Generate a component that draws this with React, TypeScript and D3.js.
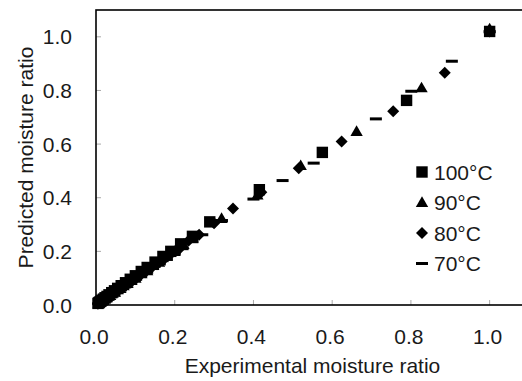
import React from 'react';
import * as d3 from 'd3';

// experimental vs predicted moisture ratio, per drying temperature
const exp100 = [1.0, 0.789, 0.575, 0.415, 0.289, 0.245, 0.215, 0.19, 0.17, 0.15, 0.13, 0.115, 0.1, 0.087, 0.075, 0.064, 0.055, 0.047, 0.04, 0.033, 0.028, 0.023, 0.019, 0.015, 0.012, 0.009, 0.007, 0.005];
const pred100 = [1.02, 0.763, 0.569, 0.43, 0.31, 0.256, 0.228, 0.2, 0.181, 0.16, 0.14, 0.125, 0.109, 0.096, 0.083, 0.072, 0.062, 0.053, 0.046, 0.038, 0.032, 0.027, 0.022, 0.018, 0.014, 0.011, 0.008, 0.006];

const exp90 = [1.0, 0.827, 0.662, 0.52, 0.41, 0.319, 0.245, 0.222, 0.2, 0.18, 0.16, 0.145, 0.13, 0.115, 0.1, 0.09, 0.08, 0.07, 0.062, 0.055, 0.048, 0.042, 0.036, 0.031, 0.026, 0.022, 0.018, 0.015, 0.012, 0.009, 0.007];
const pred90 = [1.03, 0.81, 0.647, 0.52, 0.41, 0.323, 0.25, 0.226, 0.2, 0.183, 0.16, 0.148, 0.128, 0.117, 0.1, 0.092, 0.08, 0.072, 0.062, 0.057, 0.048, 0.044, 0.036, 0.033, 0.026, 0.023, 0.018, 0.016, 0.012, 0.01, 0.007];

const exp80 = [1.0, 0.886, 0.755, 0.624, 0.515, 0.42, 0.348, 0.3, 0.262, 0.235, 0.212, 0.19, 0.172, 0.155, 0.14, 0.125, 0.112, 0.1, 0.09, 0.08, 0.072, 0.064, 0.057, 0.05, 0.044, 0.038, 0.033, 0.028, 0.024, 0.02, 0.017, 0.014, 0.011, 0.009, 0.007, 0.005];
const pred80 = [1.02, 0.866, 0.722, 0.61, 0.51, 0.42, 0.36, 0.305, 0.262, 0.24, 0.21, 0.19, 0.17, 0.152, 0.138, 0.122, 0.11, 0.098, 0.088, 0.078, 0.07, 0.062, 0.055, 0.049, 0.043, 0.038, 0.033, 0.028, 0.024, 0.02, 0.017, 0.014, 0.011, 0.009, 0.007, 0.005];

const exp70 = [1.0, 0.904, 0.801, 0.711, 0.553, 0.474, 0.4, 0.32, 0.27, 0.245, 0.22, 0.2, 0.18, 0.162, 0.145, 0.13, 0.115, 0.102, 0.09, 0.08, 0.07, 0.062, 0.055, 0.048, 0.042, 0.037, 0.032, 0.028, 0.024, 0.02, 0.017, 0.014, 0.011, 0.008, 0.006];
const pred70 = [1.02, 0.909, 0.797, 0.694, 0.529, 0.464, 0.395, 0.315, 0.262, 0.236, 0.21, 0.192, 0.17, 0.153, 0.136, 0.122, 0.108, 0.096, 0.085, 0.075, 0.066, 0.058, 0.051, 0.045, 0.039, 0.034, 0.03, 0.026, 0.022, 0.018, 0.015, 0.012, 0.01, 0.007, 0.005];

const seriesNames = ['100°C', '90°C', '80°C', '70°C'];
const xTicks = [0, 0.2, 0.4, 0.6, 0.8, 1.0];
const yTicks = [0, 0.2, 0.4, 0.6, 0.8, 1.0];

const width = 522, height = 381;
const margin = { left: 96, top: 10, right: 529, bottom: 305 };
const font = 'Arial, "Liberation Sans", sans-serif';

const x = d3.scaleLinear().domain([0, 1.1]).range([margin.left, margin.right]);
const y = d3.scaleLinear().domain([0, 1.1]).range([margin.bottom, margin.top]);

const square = d3.symbol().type(d3.symbolSquare).size(130)();
const triangle = d3.symbol().type(d3.symbolTriangle).size(66)();
const diamond = d3.symbol().type(d3.symbolSquare).size(72)();

function marker(kind: number, key: string | number, cx: number, cy: number) {
  const t = `translate(${cx},${cy})`;
  if (kind === 0) return <path key={key} d={square} transform={t} fill="#000" />;
  if (kind === 1) return <path key={key} d={triangle} transform={`${t} translate(0,1)`} fill="#000" />;
  if (kind === 2) return <path key={key} d={diamond} transform={`${t} rotate(45)`} fill="#000" />;
  return <rect key={key} x={cx - 6} y={cy - 1.5} width={12} height={3} fill="#000" />;
}

export default function App() {
  const series = [
    { xs: exp100, ys: pred100 },
    { xs: exp90, ys: pred90 },
    { xs: exp80, ys: pred80 },
    { xs: exp70, ys: pred70 },
  ];
  const txt = '#1a1a1a';

  return (
    <svg width={width} height={height} style={{ position: 'absolute', left: 0, top: 0, background: '#fff' }}>
      <rect x={0} y={0} width={width} height={height} fill="#fff" />

      {/* ticks, inside the frame */}
      {yTicks.map((t) => (
        <line key={'yt' + t} x1={margin.left} x2={margin.left + 5} y1={y(t)} y2={y(t)} stroke="#aaa" strokeWidth={1} />
      ))}
      {xTicks.map((t) => (
        <line key={'xt' + t} x1={x(t)} x2={x(t)} y1={margin.bottom} y2={margin.bottom - 5} stroke="#aaa" strokeWidth={1} />
      ))}

      {/* markers, 70°C drawn first so squares sit on top */}
      {series.map((s, i) => ({ s, i })).reverse().map(({ s, i }) =>
        s.xs.map((v, j) => marker(i, `m${i}-${j}`, x(v), y(s.ys[j])))
      )}

      <rect x={margin.left} y={margin.top} width={margin.right - margin.left} height={margin.bottom - margin.top}
        fill="none" stroke="#000" strokeWidth={1.6} />

      {yTicks.map((t) => (
        <text key={'yl' + t} x={72} y={y(t)} textAnchor="end" dominantBaseline="central"
          fontFamily={font} fontSize={21} fill={txt}>{d3.format('.1f')(t)}</text>
      ))}
      {xTicks.map((t) => (
        <text key={'xl' + t} x={x(t) - 2} y={344} textAnchor="middle"
          fontFamily={font} fontSize={21} fill={txt}>{d3.format('.1f')(t)}</text>
      ))}

      <text x={(margin.left + margin.right) / 2} y={373} textAnchor="middle" fontFamily={font} fontSize={21} fill={txt}>
        Experimental moisture ratio
      </text>
      <text transform={`translate(33,${(margin.top + margin.bottom) / 2}) rotate(-90)`} textAnchor="middle"
        fontFamily={font} fontSize={21} fill={txt}>
        Predicted moisture ratio
      </text>

      {/* legend */}
      {seriesNames.map((name, i) => (
        <g key={name}>
          {marker(i, 'lg' + i, 422, 172 + i * 30.5)}
          <text x={434} y={172 + i * 30.5} dominantBaseline="central" fontFamily={font} fontSize={21} fill={txt}>{name}</text>
        </g>
      ))}
    </svg>
  );
}
